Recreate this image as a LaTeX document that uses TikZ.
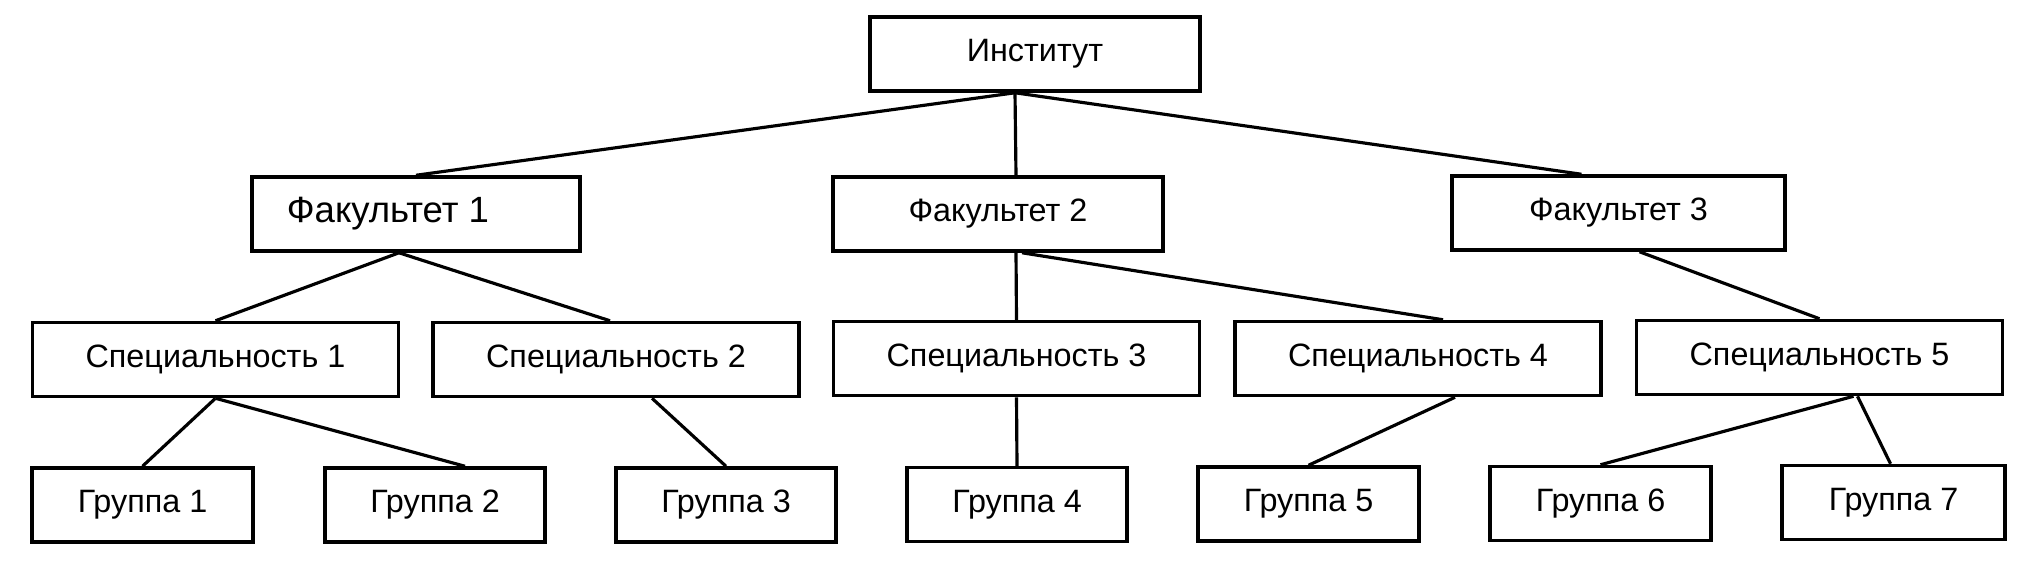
\documentclass[tikz,border=0pt]{standalone}
\usepackage{fontspec}
\setmainfont{Liberation Sans}
\usepackage{tikz}
\usetikzlibrary{positioning,calc}

\tikzset{
  box/.style={draw, line width=1pt, inner sep=0pt, minimum height=0.74cm, font=\fontsize{9.2}{11}\selectfont},
  fakbox/.style={box, minimum width=3.30cm},
  specbox/.style={box, minimum width=3.66cm},
  grbox/.style={box, minimum width=2.20cm},
  link/.style={line width=0.9pt}
}

\begin{document}
\begin{tikzpicture}
\useasboundingbox (0,0) rectangle (20.26,-5.76);
% Top
\node[fakbox] (inst) at (10.35,-0.54) {Институт};

% Faculties
\node[fakbox, minimum width=3.28cm, font=\fontsize{10.4}{12}\selectfont] (fak1) at (4.16,-2.14) {\hspace*{-0.56cm}\raisebox{-0.06cm}{Факультет 1}};
\node[fakbox] (fak2) at (9.98,-2.14) {Факультет 2};
\node[fakbox, minimum width=3.33cm] (fak3) at (16.185,-2.13) {Факультет 3};

% Specialities
\node[specbox] (spec1) at (2.155,-3.595) {Специальность 1};
\node[specbox] (spec2) at (6.16,-3.595) {Специальность 2};
\node[specbox] (spec3) at (10.165,-3.585) {Специальность 3};
\node[specbox] (spec4) at (14.18,-3.585) {Специальность 4};
\node[specbox] (spec5) at (18.195,-3.575) {Специальность 5};

% Groups
\node[grbox, minimum width=2.21cm] (gr1) at (1.425,-5.05) {Группа 1};
\node[grbox] (gr2) at (4.35,-5.05) {Группа 2};
\node[grbox] (gr3) at (7.26,-5.05) {Группа 3};
\node[grbox] (gr4) at (10.17,-5.045) {Группа 4};
\node[grbox, minimum width=2.21cm] (gr5) at (13.085,-5.04) {Группа 5};
\node[grbox, minimum width=2.21cm] (gr6) at (16.005,-5.035) {Группа 6};
\node[grbox, minimum width=2.23cm] (gr7) at (18.935,-5.025) {Группа 7};

% Institute to faculties
\draw[link] ($(inst.south)+(-0.2,0)$) -- (fak1.north);
\draw[link] ($(inst.south)+(-0.2,0)$) -- ($(fak2.north)+(0.18,0)$);
\draw[link] ($(inst.south)+(-0.2,0)$) -- ($(fak3.north)+(-0.37,0)$);

% Faculties to specialities
\draw[link] ($(fak1.south)+(-0.17,0)$) -- (spec1.north);
\draw[link] ($(fak1.south)+(-0.17,0)$) -- ($(spec2.north)+(-0.06,0)$);
\draw[link] ($(fak2.south)+(0.18,0)$) -- (spec3.north);
\draw[link] ($(fak2.south)+(0.24,0)$) -- ($(spec4.north)+(0.25,0)$);
\draw[link] ($(fak3.south)+(0.21,0)$) -- (spec5.north);

% Specialities to groups
\draw[link] (spec1.south) -- (gr1.north);
\draw[link] (spec1.south) -- ($(gr2.north)+(0.3,0)$);
\draw[link] ($(spec2.south)+(0.36,0)$) -- (gr3.north);
\draw[link] (spec3.south) -- (gr4.north);
\draw[link] ($(spec4.south)+(0.37,0)$) -- (gr5.north);
\draw[link] ($(spec5.south)+(0.34,0)$) -- (gr6.north);
\draw[link] ($(spec5.south)+(0.38,0)$) -- ($(gr7.north)+(-0.03,0)$);
\end{tikzpicture}
\end{document}
